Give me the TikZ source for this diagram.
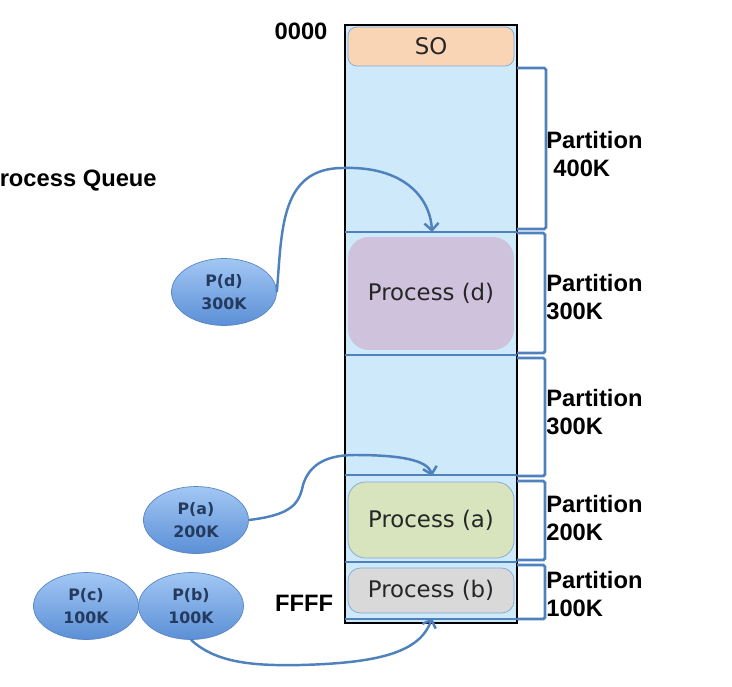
\documentclass[tikz,border=0pt]{standalone}
\usepackage{fontspec}
\setmainfont{Liberation Sans}
\newfontfamily\boxfont{DejaVu Sans}
\usetikzlibrary{shapes.geometric,arrows.meta}

\definecolor{memblue}{HTML}{CDE9FA}
\definecolor{lineblue}{HTML}{4F81BD}
\definecolor{sofill}{HTML}{F9D5B5}
\definecolor{dfill}{HTML}{CEC2DC}
\definecolor{afill}{HTML}{D7E4BD}
\definecolor{bfill}{HTML}{D9D9D9}
\definecolor{qtop}{HTML}{A2C7F4}
\definecolor{qbot}{HTML}{5B8FD6}
\definecolor{qedge}{HTML}{5A86C2}
\definecolor{qtext}{HTML}{243A5E}

\tikzset{
  partline/.style={draw=lineblue, line width=1.2pt},
  brk/.style={draw=lineblue, line width=1.6pt, rounded corners=1pt},
  procbox/.style={rectangle, minimum width=3.32cm,
    font=\boxfont\fontsize{13}{15}\selectfont, text=black!85},
  queue/.style={ellipse, minimum width=2.1cm, minimum height=1.34cm,
    inner sep=0pt, top color=qtop, bottom color=qbot, draw=qedge,
    align=center, text=qtext,
    font=\boxfont\bfseries\fontsize{9}{13.5}\selectfont},
  memlabel/.style={font=\bfseries\fontsize{13.5}{16}\selectfont,
    align=left, inner sep=0pt, anchor=west},
  conn/.style={draw=lineblue, line width=1.4pt,
    -{Straight Barb[length=4pt,width=8pt]}}
}

\begin{document}
\begin{tikzpicture}[x=0.02cm,y=-0.02cm]
\useasboundingbox (0,0) rectangle (732,686);

% memory column
\node [draw=black,
    line width=0.9pt,
    fill=memblue,
    minimum width=3.44cm,
    minimum height=11.96cm] (mem) at (431,324){};

% partition lines
\foreach \yy in {232,355,475,562,619}
  \draw[partline] (345,\yy) -- (517,\yy);

% SO
\node [procbox,
    draw=lineblue!70,
    fill=sofill,
    rounded corners=5pt,
    minimum height=0.78cm] (so) at (431,46.5){SO};

% processes in memory
\node [procbox,
    fill=dfill,
    rounded corners=12pt,
    minimum height=2.26cm] (procd) at (431,293.5){Process (d)};
\node [procbox,
    draw=lineblue!70,
    fill=afill,
    rounded corners=10pt,
    minimum height=1.52cm] (proca) at (431,520){Process (a)};
\node [procbox,
    draw=lineblue!70,
    fill=bfill,
    rounded corners=7pt,
    minimum height=0.9cm] (procb) at (431,590.5){Process (b)};

% brackets
\foreach \ya/\yb/\bx in {68/229/546, 233/353/545, 358/476/545, 481/560/545, 565/619/545}
  \draw[brk] (517,\ya) -- (\bx,\ya) -- (\bx,\yb) -- (517,\yb);

% partition labels
\node [memlabel] (l1) at (546,154){Partition\\\hspace{4pt}400K};
\node [memlabel] (l2) at (546,297){Partition\\300K};
\node [memlabel] (l3) at (546,412){Partition\\300K};
\node [memlabel] (l4) at (546,518){Partition\\200K};
\node [memlabel] (l5) at (546,594){Partition\\100K};

% addresses
\node [font=\bfseries\fontsize{13.5}{16}\selectfont] (top) at (301,31){0000};
\node [font=\bfseries\fontsize{13.5}{16}\selectfont] (bot) at (304,603){FFFF};

% process queue
\node [font=\bfseries\fontsize{13.5}{16}\selectfont,
    anchor=east, inner sep=0pt] (queue) at (157,181){Process Queue};

\node [queue] (pd) at (224,292){P(d)\\300K};
\node [queue] (pa) at (196,520){P(a)\\200K};
\node [queue] (pc) at (86,606){P(c)\\100K};
\node [queue] (pb) at (191,606){P(b)\\100K};

% arrow ends
\coordinate (tipd) at (432,232);
\coordinate (tipa) at (432,476);
\coordinate (tipb) at (432,618);

\draw[conn] (pd.east) .. controls (282,230) and (280,168) .. (343,168)
  .. controls (402,166) and (430,196) .. (tipd);
\draw[conn] (pa.east) .. controls (290,515) and (299,505) .. (303,485)
  .. controls (310,462) and (330,455) .. (355,455)
  .. controls (400,455) and (428,460) .. (tipa);
\draw[conn] (pb.south) .. controls (215,662) and (250,666) .. (300,665)
  .. controls (380,663) and (420,652) .. (tipb);

\end{tikzpicture}
\end{document}
